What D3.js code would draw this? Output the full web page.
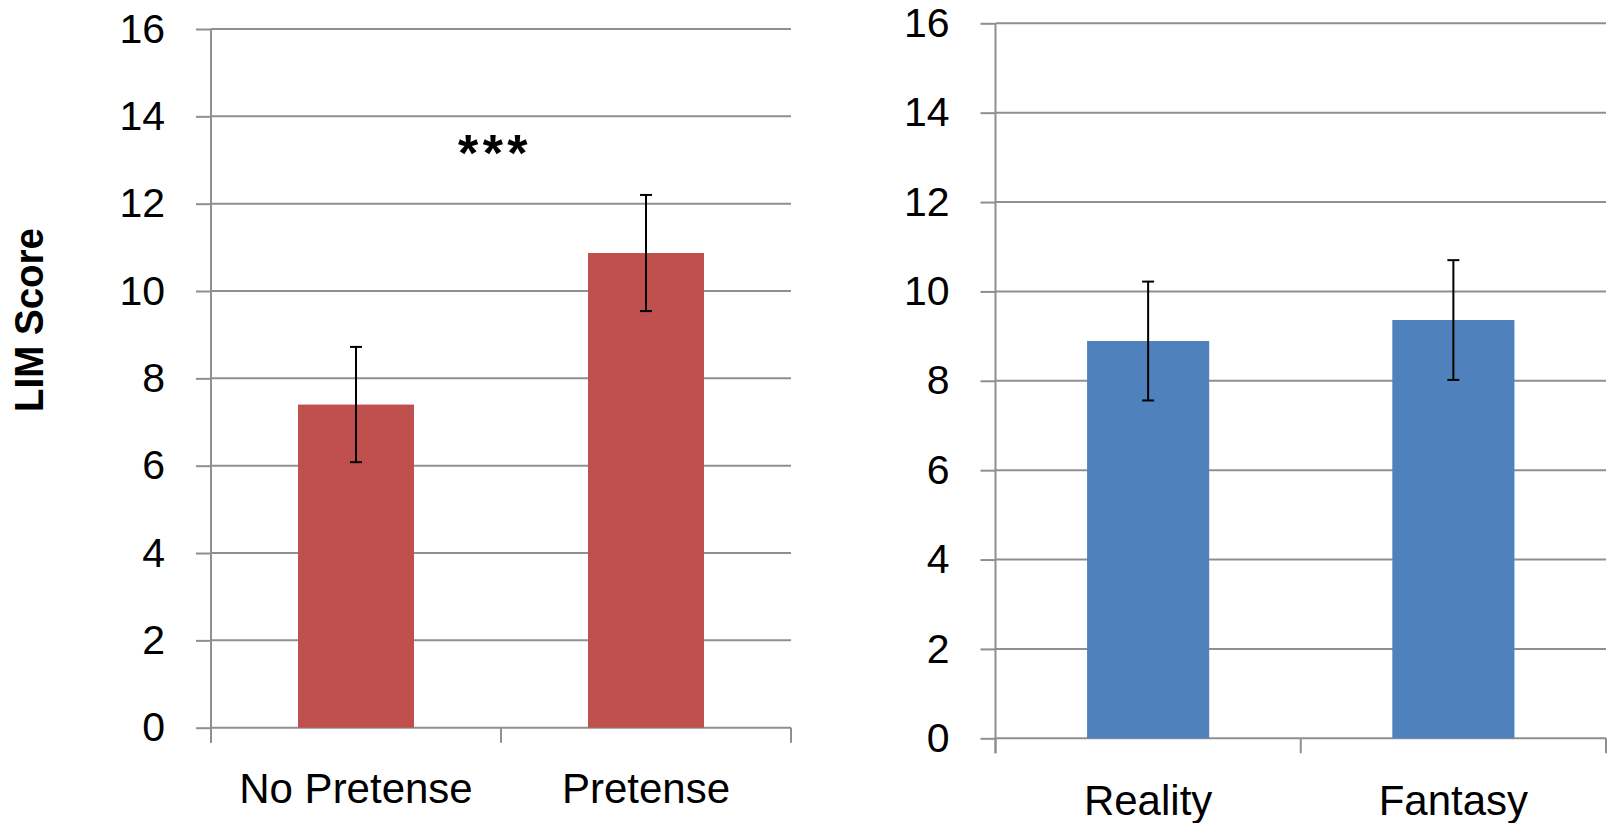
<!DOCTYPE html>
<html>
<head>
<meta charset="utf-8">
<script src="https://cdn.jsdelivr.net/npm/d3@7"></script>
<style>
  html, body { margin: 0; padding: 0; background: #fff; }
  svg { display: block; }
  text { font-family: "Liberation Sans", Arial, sans-serif; fill: #000; }
</style>
</head>
<body>
<script>
// LIM scores by condition (means with error bars)
const pretenseCategories = ["No Pretense", "Pretense"];
const pretenseMeans = [7.40, 10.87];
const pretenseErrors = [1.32, 1.33];

const contextCategories = ["Reality", "Fantasy"];
const contextMeans = [8.89, 9.36];
const contextErrors = [1.33, 1.34];

const yTicks = [0, 2, 4, 6, 8, 10, 12, 14, 16];
const yTitle = "LIM Score";
const significance = "***";

const W = 1608, H = 823;
const svg = d3.select("body").append("svg").attr("width", W).attr("height", H);

const gridColor = "#8f8f8f";

function panel(cfg) {
  const x = d3.scaleBand().domain(cfg.categories)
    .range([cfg.left, cfg.right]).paddingInner(0.6).paddingOuter(0.3);
  const y = d3.scaleLinear().domain([0, 16]).range([cfg.bottom, cfg.top]);
  const g = svg.append("g");

  // horizontal gridlines
  g.selectAll("line.grid").data(yTicks).join("line")
    .attr("x1", cfg.left).attr("x2", cfg.right)
    .attr("y1", d => y(d)).attr("y2", d => y(d))
    .attr("stroke", gridColor).attr("stroke-width", 2);

  // y axis: ticks and labels
  const yAxis = d3.axisLeft(y).tickValues(yTicks).tickSize(15).tickPadding(31);
  const ya = g.append("g").attr("transform", `translate(${cfg.left},0)`).call(yAxis);
  ya.select(".domain").remove();
  ya.selectAll(".tick line").attr("stroke", gridColor).attr("stroke-width", 2);
  ya.selectAll(".tick text").attr("font-size", 41)
    .attr("font-family", "'Liberation Sans', Arial, sans-serif").attr("fill", "#000");

  // vertical axis line
  g.append("line").attr("x1", cfg.left).attr("x2", cfg.left)
    .attr("y1", y(16)).attr("y2", cfg.bottom + 15)
    .attr("stroke", gridColor).attr("stroke-width", 2);

  // category boundary ticks under the baseline
  const bounds = [cfg.left].concat(cfg.categories.map(c => x(c) + x.bandwidth() + x.step() * 0.3));
  g.selectAll("line.xtick").data(bounds).join("line")
    .attr("x1", d => d).attr("x2", d => d)
    .attr("y1", cfg.bottom).attr("y2", cfg.bottom + 15)
    .attr("stroke", gridColor).attr("stroke-width", 2);

  // bars
  g.selectAll("rect.bar").data(cfg.means).join("rect")
    .attr("x", (d, i) => x(cfg.categories[i]))
    .attr("width", x.bandwidth())
    .attr("y", d => y(d))
    .attr("height", d => y(0) - y(d))
    .attr("fill", cfg.color);

  // error bars
  const eb = g.selectAll("g.err").data(cfg.means).join("g")
    .attr("transform", (d, i) => `translate(${x(cfg.categories[i]) + x.bandwidth() / 2},0)`);
  eb.append("line").attr("y1", (d, i) => y(d + cfg.errors[i])).attr("y2", (d, i) => y(d - cfg.errors[i]))
    .attr("stroke", "#000").attr("stroke-width", 2);
  eb.append("line").attr("x1", -6).attr("x2", 6)
    .attr("y1", (d, i) => y(d + cfg.errors[i])).attr("y2", (d, i) => y(d + cfg.errors[i]))
    .attr("stroke", "#000").attr("stroke-width", 2);
  eb.append("line").attr("x1", -6).attr("x2", 6)
    .attr("y1", (d, i) => y(d - cfg.errors[i])).attr("y2", (d, i) => y(d - cfg.errors[i]))
    .attr("stroke", "#000").attr("stroke-width", 2);

  // category labels
  g.selectAll("text.cat").data(cfg.categories).join("text")
    .attr("x", d => x(d) + x.bandwidth() / 2)
    .attr("y", cfg.labelY)
    .attr("text-anchor", "middle")
    .attr("font-size", 42)
    .text(d => d);

  return { x, y, g };
}

const left = panel({
  categories: pretenseCategories, means: pretenseMeans, errors: pretenseErrors,
  left: 211, right: 791, top: 29, bottom: 727.7, color: "#C0504D", labelY: 803
});

panel({
  categories: contextCategories, means: contextMeans, errors: contextErrors,
  left: 995.5, right: 1606, top: 23.3, bottom: 738.3, color: "#4F81BD", labelY: 815
});

// significance marker between the two pretense bars
left.g.append("text")
  .attr("x", 495).attr("y", 171)
  .attr("text-anchor", "middle")
  .attr("font-size", 52).attr("font-weight", "bold")
  .attr("letter-spacing", 4.5)
  .text(significance);

// y axis title
svg.append("text")
  .attr("transform", "translate(43,320) rotate(-90)")
  .attr("text-anchor", "middle")
  .attr("font-size", 41).attr("font-weight", "bold")
  .attr("textLength", 184).attr("lengthAdjust", "spacingAndGlyphs")
  .text(yTitle);
</script>
</body>
</html>
